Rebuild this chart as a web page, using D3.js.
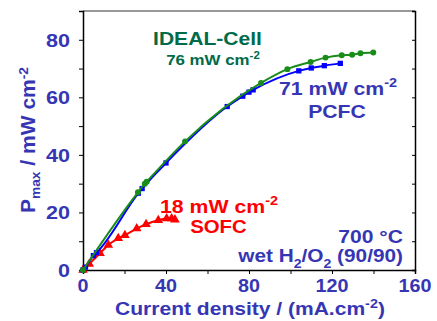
<!DOCTYPE html>
<html><head><meta charset="utf-8">
<script src="https://cdn.jsdelivr.net/npm/d3@7"></script>
<style>body{margin:0;background:#fff}svg{display:block;font-family:"Liberation Sans",Arial,sans-serif;font-weight:bold}</style>
</head><body><svg id="c" width="437" height="321"></svg>
<script>
const xTicks = [0, 40, 80, 120, 160];
const yTicks = [0, 20, 40, 60, 80];
const idealX = [0, 26.5, 29.8, 30.7, 49.2, 85.8, 98.5, 109.7, 116.9, 124.7, 129.7, 133.7, 139.9];
const idealY = [0, 27, 30, 30.7, 44.7, 65, 69.8, 72.3, 73.8, 74.6, 74.8, 75.3, 75.6];
const pcfcX = [0, 1.2, 5, 6.5, 26.7, 28.5, 40, 69.5, 77, 80, 82, 104, 110, 116.3, 124];
const pcfcY = [0, 1, 5, 6, 26.7, 28.3, 37.2, 56.8, 60.4, 61.8, 62.6, 69.2, 70.2, 71, 71.8];
const sofcX = [0, 3, 8.2, 12.2, 17, 20.2, 25.9, 30.4, 36.3, 40.3, 42.7, 44.3];
const sofcY = [0, 2.1, 5.8, 8.7, 11, 12.1, 14.4, 15.9, 17.3, 17.9, 17.9, 17.5];

const W = 437, H = 321, m = {l: 83, r: 22, t: 11, b: 51};
const svg = d3.select("#c");
const x = d3.scaleLinear().domain([0, 160]).range([m.l, W - m.r]);
const y = d3.scaleLinear().domain([0, 90]).range([H - m.b, m.t]);
const txt = "#3636b4";
const FS = 19;

// horizontally stretch a text so that its width becomes target (keeping anchor)
function fit(t, target) {
  const n = t.node(), bb = n.getBBox();
  const anchor = t.attr("text-anchor") || "start";
  const ax = anchor === "end" ? bb.x + bb.width : anchor === "middle" ? bb.x + bb.width / 2 : bb.x;
  const s = target / bb.width;
  const prev = t.attr("transform") || "";
  t.attr("transform", `${prev} translate(${ax},0) scale(${s},1) translate(${-ax},0)`);
}

// frame top/right
svg.append("line").attr("x1", x(0)).attr("x2", x(160)).attr("y1", y(90)).attr("y2", y(90)).attr("stroke", "#999").attr("stroke-width", 2);
const gr = svg.append("g").attr("transform", `translate(${x(160)},0)`)
  .call(d3.axisLeft(y).tickValues(d3.range(0, 91, 10)).tickSize(3).tickFormat(""));
gr.select(".domain").attr("stroke", "#000").attr("stroke-width", 1.5);

// bottom axis
const gx = svg.append("g").attr("transform", `translate(0,${y(0)})`)
  .call(d3.axisBottom(x).tickValues(d3.range(0, 161, 20)).tickSize(4).tickFormat(""));
gx.select(".domain").attr("stroke-width", 1.5);
svg.append("g").selectAll("text").data(xTicks).join("text")
  .attr("x", d => x(d)).attr("y", 292).attr("text-anchor", "middle")
  .attr("fill", txt).attr("font-size", FS).text(d => d)
  .each(function(d) { fit(d3.select(this), String(d).length * 11); });

// left axis
const gy = svg.append("g").attr("transform", `translate(${x(0)},0)`)
  .call(d3.axisLeft(y).tickValues(d3.range(0, 91, 10)).tickSize(4).tickFormat(""));
gy.select(".domain").attr("stroke-width", 1.5);
svg.append("g").selectAll("text").data(yTicks).join("text")
  .attr("x", 70).attr("y", d => y(d) + 7).attr("text-anchor", "end")
  .attr("fill", txt).attr("font-size", FS).text(d => d)
  .each(function(d) { fit(d3.select(this), String(d).length * 12); });

// axis titles
const xt = svg.append("text").attr("x", 250).attr("y", 315).attr("text-anchor", "middle")
  .attr("fill", txt).attr("font-size", FS);
xt.append("tspan").text("Current density / (mA.cm");
xt.append("tspan").attr("font-size", 13).attr("dy", -7).text("-2");
xt.append("tspan").attr("dy", 7).text(")");
fit(xt, 270);

const yt = svg.append("text").attr("x", 0).attr("y", 0).attr("text-anchor", "middle")
  .attr("fill", txt).attr("font-size", 20);
yt.append("tspan").text("P");
yt.append("tspan").attr("font-size", 13).attr("dy", 5).text("max");
yt.append("tspan").attr("dy", -5).text(" / mW cm");
yt.append("tspan").attr("font-size", 13).attr("dy", -7).text("-2");
fit(yt, 146);
yt.attr("transform", "translate(35,140) rotate(-90) " + yt.attr("transform"));

function series(xs, ys, color, shape, size) {
  const pts = xs.map((d, i) => [d, ys[i]]);
  svg.append("path").datum(pts).attr("fill", "none").attr("stroke", color).attr("stroke-width", 2)
    .attr("d", d3.line().x(d => x(d[0])).y(d => y(d[1])).curve(d3.curveMonotoneX));
  svg.append("g").selectAll("path").data(pts).join("path")
    .attr("transform", d => `translate(${x(d[0])},${y(d[1])})`)
    .attr("d", d3.symbol().type(shape).size(size)).attr("fill", color);
}
series(sofcX, sofcY, "#ff0000", d3.symbolTriangle, 40);
series(pcfcX, pcfcY, "#0000ff", d3.symbolSquare, 28);
series(idealX, idealY, "#1a8c1a", d3.symbolCircle, 28);

function label(xp, yp, parts, color, size, anchor, width) {
  const t = svg.append("text").attr("x", xp).attr("y", yp).attr("fill", color).attr("font-size", size).attr("text-anchor", anchor || "middle");
  parts.forEach(p => {
    const s = t.append("tspan").text(p[0]);
    if (p[1] === "sup") s.attr("font-size", size * 0.68).attr("dy", -size * 0.4);
    if (p[1] === "sub") s.attr("font-size", size * 0.68).attr("dy", size * 0.3);
    if (p[2]) s.attr("dy", p[2]);
  });
  if (width) fit(t, width);
  return t;
}
label(207.5, 45, [["IDEAL-Cell"]], "#006b4a", FS, "middle", 109);
label(213, 65, [["76 mW cm"], ["-2", "sup"]], "#006b4a", 15, "middle", 94);
label(338, 95, [["71 mW cm"], ["-2", "sup"]], txt, FS, "middle", 118);
label(337, 118, [["PCFC"]], txt, FS, "middle", 58);
label(219, 213, [["18 mW cm"], ["-2", "sup"]], "#ff0000", FS, "middle", 118);
label(218.5, 233, [["SOFC"]], "#ff0000", FS, "middle", 57);
label(403, 243, [["700 °C"]], txt, FS, "end", 65);
label(403, 262, [["wet H"], ["2", "sub"], ["/O", null, -5.7], ["2", "sub"], [" (90/90)", null, -5.7]], txt, FS, "end", 166);
</script></body></html>
